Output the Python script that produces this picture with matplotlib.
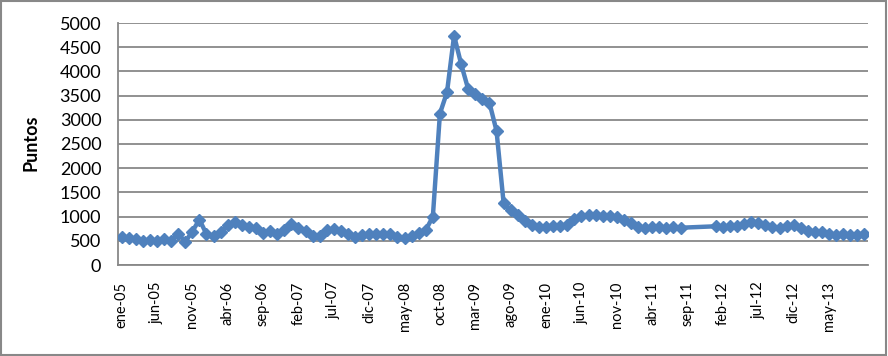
import matplotlib.pyplot as plt
from matplotlib.patches import Rectangle

# meses (etiquetas del eje) y puntos mensuales, None = sin dato
meses = ['ene', 'feb', 'mar', 'abr', 'may', 'jun', 'jul', 'ago', 'sep', 'oct', 'nov', 'dic']
anios = ['05', '06', '07', '08', '09', '10', '11', '12', '13']

puntos_2005 = [580, 560, 530, 500, 520, 500, 530, 500, 650, 480, 690, 940]
puntos_2006 = [640, 590, 680, 820, 880, 830, 790, 760, 660, 710, 650, 720]
puntos_2007 = [850, 760, 700, 590, 600, 720, 740, 700, 640, 580, 620, 640]
puntos_2008 = [650, 640, 650, 570, 560, 600, 660, 720, 1000, 3130, 3570, 4740]
puntos_2009 = [4150, 3630, 3530, 3440, 3350, 2770, 1280, 1130, 1030, 900, 830, 790]
puntos_2010 = [780, 800, 800, 820, 960, 1020, 1030, 1040, 1020, 1010, 990, 930]
puntos_2011 = [870, 790, 770, 780, 780, 770, 780, 770, None, None, None, None]
puntos_2012 = [800, 790, 800, 810, 850, 880, 870, 830, 780, 760, 800, 830]
puntos_2013 = [760, 700, 680, 680, 640, 610, 640, 620, 630, 650]

etiquetas = [m + '-' + a for a in anios for m in meses]
valores = (puntos_2005 + puntos_2006 + puntos_2007 + puntos_2008 + puntos_2009
           + puntos_2010 + puntos_2011 + puntos_2012 + puntos_2013)

x = [i for i, v in enumerate(valores) if v is not None]
y = [v for v in valores if v is not None]

plt.rcParams['font.family'] = ['Lato', 'DejaVu Sans']

fig = plt.figure(figsize=(8.88, 3.56), dpi=100)
ax = fig.add_axes([118 / 888, 1 - 265 / 356, 750 / 888, 242 / 356])

ax.plot(x, y, color='#4F81BD', linewidth=3.2, marker='D', markersize=6.5,
        markerfacecolor='#4F81BD', markeredgecolor='#4F81BD', zorder=3)

ax.set_ylim(0, 5000)
ax.set_yticks(range(0, 5001, 500))
ax.set_xlim(-0.5, len(valores) - 0.5)
ticks = list(range(0, 101, 5))
ax.set_xticks(ticks)
ax.set_xticklabels([etiquetas[t] for t in ticks], rotation=90)

ax.grid(axis='y', color='#888888', linewidth=1.3)
ax.set_axisbelow(True)
for s in ['top', 'right']:
    ax.spines[s].set_visible(False)
for s in ['left', 'bottom']:
    ax.spines[s].set_color('#888888')
    ax.spines[s].set_linewidth(1.3)
ax.tick_params(axis='both', length=0, colors='black')
ax.tick_params(axis='y', pad=12, labelsize=13)
ax.tick_params(axis='x', pad=12, labelsize=10.5)

ax.set_ylabel('Puntos', fontsize=13, fontweight='bold')
ax.yaxis.set_label_coords(-0.104, 0.504)

fig.patches.append(Rectangle((0.001, 0.002), 0.997, 0.995, transform=fig.transFigure,
                             fill=False, edgecolor='#888888', linewidth=1.5))

fig.savefig('out.png', dpi=100)
